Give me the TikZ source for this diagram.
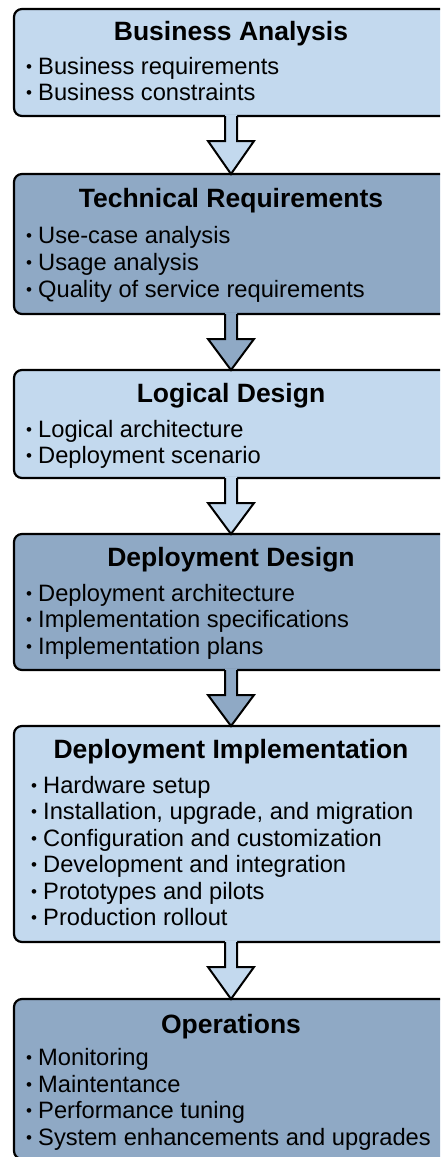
\documentclass[tikz,border=0pt]{standalone}
\usepackage{fontspec}
\setmainfont{Liberation Sans}
\usetikzlibrary{calc}
\definecolor{lightbox}{RGB}{195,217,238}
\definecolor{darkbox}{RGB}{143,169,197}
\newcommand\blt{\llap{\raisebox{1.5pt}{\fontsize{17}{17}\selectfont •}\hspace{6pt}}}
\newcommand\stagearrow[3]{%
  \fill[#3] ($(#1)+(-6,1.6)$) -- ($(#1)+(-6,-25)$) -- ($(#1)+(-23,-25)$)
    -- (#2) -- ($(#1)+(23,-25)$) -- ($(#1)+(6,-25)$) -- ($(#1)+(6,1.6)$) -- cycle;
  \draw[arrowline] ($(#1)+(-6,0)$) -- ($(#1)+(-6,-25)$) -- ($(#1)+(-23,-25)$)
    -- (#2) -- ($(#1)+(23,-25)$) -- ($(#1)+(6,-25)$) -- ($(#1)+(6,0)$);
}
\begin{document}
\begin{tikzpicture}[x=1pt,y=1pt,
  stage/.style={draw=black, line width=2.2pt, rounded corners=8pt, inner sep=0pt, outer sep=0pt, minimum width=520pt},
  arrowline/.style={draw=black, line width=2pt, line join=miter},
  title/.style={anchor=base, inner sep=0pt, font=\fontsize{26.5}{30}\selectfont\bfseries},
  item/.style={anchor=base west, inner sep=0pt, font=\fontsize{23.7}{26.5}\selectfont}]
\useasboundingbox (0,0) rectangle (440,-1157);
\clip (0,0) rectangle (440,-1157);
% boxes (they run off the right edge of the picture)
\node[stage, fill=lightbox, minimum height=107pt] (b1) at (274,-62.5) {};
\node[stage, fill=darkbox,  minimum height=140pt] (b2) at (274,-244) {};
\node[stage, fill=lightbox, minimum height=108pt] (b3) at (274,-424) {};
\node[stage, fill=darkbox,  minimum height=136pt] (b4) at (274,-602) {};
\node[stage, fill=lightbox, minimum height=216pt] (b5) at (274,-834) {};
\node[stage, fill=darkbox,  minimum height=160pt] (b6) at (274,-1079) {};
% arrow anchors on the boxes
\coordinate (a1) at (b1.south -| 231,0);
\coordinate (a2) at (b2.south -| 231,0);
\coordinate (a3) at (b3.south -| 231,0);
\coordinate (a4) at (b4.south -| 231,0);
\coordinate (a5) at (b5.south -| 231,0);
\coordinate (n2) at (b2.north -| 231,0);
\coordinate (n3) at (b3.north -| 231,0);
\coordinate (n4) at (b4.north -| 231,0);
\coordinate (n5) at (b5.north -| 231,0);
\coordinate (n6) at (b6.north -| 231,0);
% arrows
\stagearrow{a1}{n2}{lightbox}
\stagearrow{a2}{n3}{darkbox}
\stagearrow{a3}{n4}{lightbox}
\stagearrow{a4}{n5}{darkbox}
\stagearrow{a5}{n6}{lightbox}
% box 1
\node[title] (t1) at (231,-40) {Business Analysis};
\node[item] (b1i1) at (38,-74) {\blt Business requirements};
\node[item] (b1i2) at (38,-100) {\blt Business constraints};
% box 2
\node[title] (t2) at (231,-207) {Technical Requirements};
\node[item] (b2i1) at (38,-243) {\blt Use-case analysis};
\node[item] (b2i2) at (38,-270) {\blt Usage analysis};
\node[item] (b2i3) at (38,-297) {\blt Quality of service requirements};
% box 3
\node[title] (t3) at (231,-402) {Logical Design};
\node[item] (b3i1) at (38,-437) {\blt Logical architecture};
\node[item] (b3i2) at (38,-463) {\blt Deployment scenario};
% box 4
\node[title] (t4) at (231,-566) {Deployment Design};
\node[item] (b4i1) at (38,-601) {\blt Deployment architecture};
\node[item] (b4i2) at (38,-627) {\blt Implementation specifications};
\node[item] (b4i3) at (38,-654) {\blt Implementation plans};
% box 5
\node[title] (t5) at (231,-758) {Deployment Implementation};
\node[item] (b5i1) at (43,-793) {\blt Hardware setup};
\node[item] (b5i2) at (43,-819) {\blt Installation, upgrade, and migration};
\node[item] (b5i3) at (43,-846) {\blt Configuration and customization};
\node[item] (b5i4) at (43,-872) {\blt Development and integration};
\node[item] (b5i5) at (43,-899) {\blt Prototypes and pilots};
\node[item] (b5i6) at (43,-925) {\blt Production rollout};
% box 6
\node[title] (t6) at (231,-1033) {Operations};
\node[item] (b6i1) at (38,-1065) {\blt Monitoring};
\node[item] (b6i2) at (38,-1092) {\blt Maintentance};
\node[item] (b6i3) at (38,-1118) {\blt Performance tuning};
\node[item] (b6i4) at (38,-1145) {\blt System enhancements and upgrades};
\end{tikzpicture}
\end{document}
